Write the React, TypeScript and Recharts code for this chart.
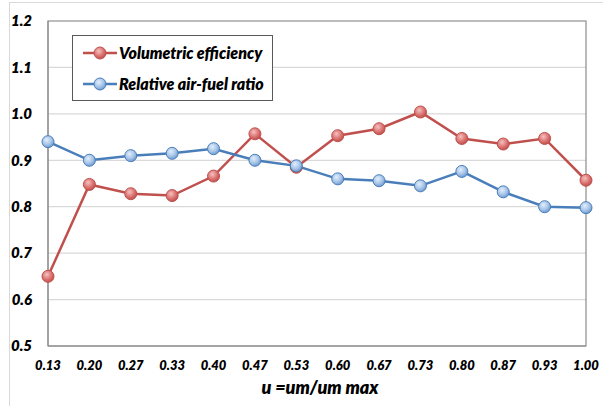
import {
  CartesianGrid,
  Line,
  LineChart,
  ReferenceArea,
  XAxis,
  YAxis,
} from "recharts";

const categories = [
  "0.13", "0.20", "0.27", "0.33", "0.40", "0.47", "0.53",
  "0.60", "0.67", "0.73", "0.80", "0.87", "0.93", "1.00",
];
const volumetricEfficiency = [
  0.65, 0.848, 0.828, 0.824, 0.866, 0.957, 0.885,
  0.953, 0.968, 1.004, 0.947, 0.935, 0.947, 0.857,
];
const relativeAirFuel = [
  0.94, 0.9, 0.91, 0.915, 0.925, 0.9, 0.888,
  0.86, 0.856, 0.845, 0.876, 0.832, 0.8, 0.798,
];
const yTicks = [0.5, 0.6, 0.7, 0.8, 0.9, 1.0, 1.1, 1.2];

const font = "Lato, 'DejaVu Sans', sans-serif";

const data = categories.map((name, i) => ({
  name,
  ve: volumetricEfficiency[i],
  lambda: relativeAirFuel[i],
}));

const legendItems = [
  { label: "Volumetric efficiency", color: "#c0504d", fill: "url(#redDot)" },
  { label: "Relative air-fuel ratio", color: "#4a7ebb", fill: "url(#blueDot)" },
];

function LegendBox() {
  return (
    <div
      style={{
        position: "absolute",
        left: 72,
        top: 35,
        width: 199,
        height: 63,
        border: "1px solid #595959",
        background: "#fff",
        fontFamily: font,
        fontWeight: 800,
        fontStyle: "italic",
        fontSize: 16,
        color: "#000",
        paddingTop: 1,
        boxSizing: "content-box",
      }}
    >
      {legendItems.map((item) => (
        <div key={item.label} style={{ display: "flex", alignItems: "center", height: 31 }}>
          <svg width={34} height={16} style={{ marginLeft: 10, marginRight: 2, flex: "none" }}>
            <line x1={0} y1={8} x2={34} y2={8} stroke={item.color} strokeWidth={2.5} />
            <circle cx={17} cy={8} r={6} fill={item.fill} stroke={item.color} strokeWidth={1} />
          </svg>
          <span style={{ whiteSpace: "nowrap" }}>{item.label}</span>
        </div>
      ))}
    </div>
  );
}

export default function App() {
  return (
    <div style={{ position: "absolute", left: 0, top: 0, width: 603, height: 406, background: "#fff", overflow: "hidden" }}>
      <div
        style={{
          position: "absolute",
          left: 9,
          top: 2,
          width: 600,
          height: 410,
          border: "1px solid #d9d9d9",
        }}
      />
      <LineChart
        width={603}
        height={406}
        data={data}
        margin={{ top: 21, right: 17, left: 0, bottom: 0 }}
        style={{ position: "absolute", left: 0, top: 0 }}
      >
        <defs>
          <radialGradient id="redDot" cx="40%" cy="35%" r="65%">
            <stop offset="0%" stopColor="#f4c2c1" />
            <stop offset="60%" stopColor="#dc7573" />
            <stop offset="100%" stopColor="#c0504d" />
          </radialGradient>
          <radialGradient id="blueDot" cx="40%" cy="35%" r="65%">
            <stop offset="0%" stopColor="#e3eefa" />
            <stop offset="60%" stopColor="#a7c5e8" />
            <stop offset="100%" stopColor="#6f9bd1" />
          </radialGradient>
        </defs>
        <CartesianGrid vertical={false} stroke="#d9d9d9" strokeWidth={1.2} />
        <ReferenceArea
          x1="0.13"
          x2="1.00"
          y1={0.5}
          y2={1.2}
          fill="none"
          stroke="#8c8c8c"
          strokeWidth={1.2}
          ifOverflow="visible"
        />
        <XAxis
          dataKey="name"
          height={60}
          axisLine={{ stroke: "#8c8c8c" }}
          tickLine={false}
          tickMargin={9}
          interval={0}
          tick={{ fill: "#000", fontFamily: font, fontWeight: 800, fontStyle: "italic", fontSize: 13 }}
          label={{
            value: "u =um/um max",
            position: "insideBottom",
            offset: 12,
            dx: 3,
            fill: "#000",
            fontFamily: font,
            fontWeight: 800,
            fontStyle: "italic",
            fontSize: 18,
          }}
        />
        <YAxis
          width={48}
          domain={[0.5, 1.2]}
          ticks={yTicks}
          interval={0}
          axisLine={{ stroke: "#8c8c8c" }}
          tickLine={false}
          tickMargin={10}
          tickFormatter={(v: number) => v.toFixed(1)}
          tick={{ fill: "#000", fontFamily: font, fontWeight: 800, fontStyle: "italic", fontSize: 15 }}
        />
        <Line
          dataKey="ve"
          stroke="#c0504d"
          strokeWidth={2.5}
          dot={{ r: 6, fill: "url(#redDot)", stroke: "#c0504d", strokeWidth: 1 }}
          isAnimationActive={false}
        />
        <Line
          dataKey="lambda"
          stroke="#4a7ebb"
          strokeWidth={2.5}
          dot={{ r: 6, fill: "url(#blueDot)", stroke: "#4a7ebb", strokeWidth: 1 }}
          isAnimationActive={false}
        />
      </LineChart>
      <LegendBox />
    </div>
  );
}
